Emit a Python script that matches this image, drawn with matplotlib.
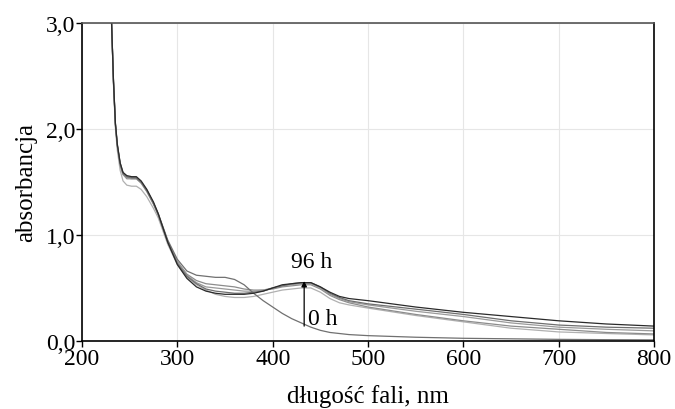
import numpy as np
import matplotlib.pyplot as plt

plt.rcParams['font.family'] = ['Liberation Serif', 'DejaVu Serif']

# wavelengths, nm
wl = [231, 233, 235, 237, 240, 243, 247, 252, 257, 262, 268, 275, 280, 290,
      300, 310, 320, 330, 340, 350, 360, 370, 380, 390, 400, 410, 420, 430,
      440, 450, 460, 470, 480, 500, 550, 600, 650, 700, 750, 800]

# absorbance, 0 h
a_0h = [3.00, 2.45, 2.05, 1.85, 1.68, 1.59, 1.55, 1.54, 1.54, 1.50, 1.42, 1.30, 1.20, 0.95,
        0.77, 0.66, 0.62, 0.61, 0.60, 0.60, 0.58, 0.53, 0.45, 0.38, 0.32, 0.26, 0.21, 0.17,
        0.13, 0.10, 0.08, 0.07, 0.06, 0.05, 0.035, 0.025, 0.02, 0.015, 0.012, 0.01]

# absorbance, intermediate times (light -> dark)
a_t1 = [3.00, 2.42, 2.01, 1.80, 1.61, 1.51, 1.47, 1.46, 1.46, 1.43, 1.36, 1.25, 1.16, 0.91,
        0.72, 0.60, 0.53, 0.48, 0.44, 0.42, 0.41, 0.41, 0.42, 0.44, 0.46, 0.48, 0.49, 0.50,
        0.50, 0.46, 0.40, 0.36, 0.34, 0.31, 0.24, 0.18, 0.12, 0.085, 0.07, 0.057]
a_t2 = [3.00, 2.44, 2.04, 1.84, 1.66, 1.57, 1.53, 1.53, 1.53, 1.49, 1.41, 1.29, 1.19, 0.94,
        0.75, 0.63, 0.57, 0.54, 0.53, 0.52, 0.51, 0.49, 0.48, 0.48, 0.49, 0.51, 0.52, 0.53,
        0.53, 0.49, 0.43, 0.39, 0.36, 0.32, 0.25, 0.19, 0.14, 0.11, 0.08, 0.066]
a_t3 = [3.00, 2.44, 2.04, 1.84, 1.66, 1.57, 1.54, 1.53, 1.53, 1.49, 1.41, 1.29, 1.19, 0.93,
        0.74, 0.62, 0.55, 0.51, 0.50, 0.49, 0.48, 0.47, 0.47, 0.48, 0.50, 0.52, 0.53, 0.54,
        0.54, 0.50, 0.44, 0.40, 0.37, 0.34, 0.28, 0.23, 0.17, 0.13, 0.11, 0.095]
a_t4 = [3.00, 2.45, 2.05, 1.85, 1.67, 1.58, 1.55, 1.54, 1.54, 1.50, 1.42, 1.30, 1.19, 0.93,
        0.73, 0.61, 0.54, 0.49, 0.47, 0.46, 0.45, 0.45, 0.46, 0.47, 0.50, 0.52, 0.54, 0.55,
        0.55, 0.51, 0.45, 0.41, 0.38, 0.35, 0.30, 0.25, 0.19, 0.15, 0.13, 0.12]
a_96h = [3.00, 2.46, 2.06, 1.86, 1.68, 1.59, 1.56, 1.55, 1.55, 1.51, 1.43, 1.31, 1.20, 0.93,
         0.72, 0.59, 0.51, 0.47, 0.45, 0.44, 0.44, 0.44, 0.45, 0.47, 0.50, 0.53, 0.54, 0.55,
         0.55, 0.51, 0.46, 0.42, 0.40, 0.38, 0.32, 0.27, 0.23, 0.19, 0.16, 0.14]

series = [a_t1, a_t2, a_t3, a_t4, a_0h, a_96h]
colors = ['#b0b0b0', '#8c8c8c', '#9a9a9a', '#6e6e6e', '#707070', '#2a2a2a']

fig = plt.figure(figsize=(6.75, 4.1), dpi=100)
ax = fig.add_axes([0.1215, 0.166, 0.8475, 0.7755])

for s, c in zip(series, colors):
    ax.plot(wl, s, color=c, lw=0.9)

# arrow 0 h -> 96 h
ax.annotate('', xy=(433, 0.565), xytext=(433, 0.14),
            arrowprops=dict(arrowstyle='-|>', color='black', lw=0.9,
                            mutation_scale=8, shrinkA=0, shrinkB=0))
ax.text(441, 0.75, '96 h', fontsize=17, ha='center', va='center')
ax.text(453, 0.21, '0 h', fontsize=17, ha='center', va='center')

ax.set_xlim(200, 800)
ax.set_ylim(0, 3.0)
ax.set_xticks([200, 300, 400, 500, 600, 700, 800])
ax.set_yticks([0, 1, 2, 3])
ax.set_yticklabels(['0,0', '1,0', '2,0', '3,0'])
ax.grid(True, color='#e6e6e6', lw=0.8)
ax.set_axisbelow(True)
ax.tick_params(direction='out', length=4, width=1, labelsize=17, pad=1)
for side in ['left', 'bottom', 'right']:
    ax.spines[side].set_color('black')
    ax.spines[side].set_linewidth(1.2)
ax.spines['top'].set_color('#555555')
ax.spines['top'].set_linewidth(1.2)

ax.set_xlabel('długość fali, nm', fontsize=18, labelpad=11)
ax.set_ylabel('absorbancja', fontsize=18, labelpad=6)

fig.savefig('out.png', dpi=100)
